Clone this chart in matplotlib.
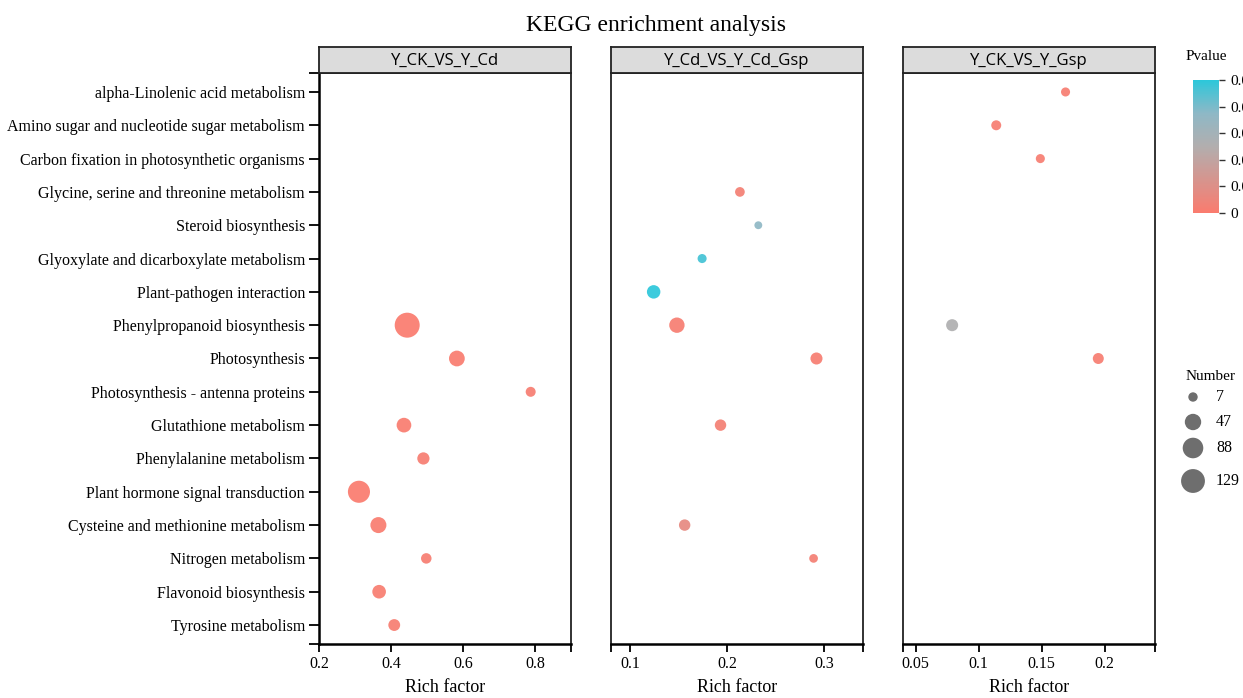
import numpy as np
import matplotlib
matplotlib.use("Agg")
import matplotlib.pyplot as plt
from matplotlib.colors import LinearSegmentedColormap, Normalize
from matplotlib.cm import ScalarMappable

# ---------------- data ----------------
pathways = [
    "alpha-Linolenic acid metabolism",
    "Amino sugar and nucleotide sugar metabolism",
    "Carbon fixation in photosynthetic organisms",
    "Glycine, serine and threonine metabolism",
    "Steroid biosynthesis",
    "Glyoxylate and dicarboxylate metabolism",
    "Plant-pathogen interaction",
    "Phenylpropanoid biosynthesis",
    "Photosynthesis",
    "Photosynthesis - antenna proteins",
    "Glutathione metabolism",
    "Phenylalanine metabolism",
    "Plant hormone signal transduction",
    "Cysteine and methionine metabolism",
    "Nitrogen metabolism",
    "Flavonoid biosynthesis",
    "Tyrosine metabolism",
]

groups = ["Y_CK_VS_Y_Cd", "Y_Cd_VS_Y_Cd_Gsp", "Y_CK_VS_Y_Gsp"]

# group 1
g1_path = ["Phenylpropanoid biosynthesis", "Photosynthesis", "Photosynthesis - antenna proteins",
           "Glutathione metabolism", "Phenylalanine metabolism", "Plant hormone signal transduction",
           "Cysteine and methionine metabolism", "Nitrogen metabolism", "Flavonoid biosynthesis",
           "Tyrosine metabolism"]
g1_rich = [0.445, 0.583, 0.788, 0.436, 0.490, 0.311, 0.365, 0.498, 0.367, 0.409]
g1_num = [145, 42, 9, 34, 19, 106, 44, 11, 27, 17]
g1_p = [0.0, 0.0005, 0.001, 0.0005, 0.001, 0.0, 0.0005, 0.001, 0.0008, 0.001]

# group 2
g2_path = ["Glycine, serine and threonine metabolism", "Steroid biosynthesis",
           "Glyoxylate and dicarboxylate metabolism", "Plant-pathogen interaction",
           "Phenylpropanoid biosynthesis", "Photosynthesis", "Glutathione metabolism",
           "Cysteine and methionine metabolism", "Nitrogen metabolism"]
g2_rich = [0.213, 0.232, 0.174, 0.124, 0.148, 0.292, 0.193, 0.156, 0.289]
g2_num = [8, 3, 6, 26, 39, 18, 15, 15, 5]
g2_p = [0.002, 0.037, 0.047, 0.050, 0.001, 0.001, 0.002, 0.007, 0.002]

# group 3
g3_path = ["alpha-Linolenic acid metabolism", "Amino sugar and nucleotide sugar metabolism",
           "Carbon fixation in photosynthetic organisms", "Phenylpropanoid biosynthesis",
           "Photosynthesis"]
g3_rich = [0.169, 0.114, 0.149, 0.079, 0.195]
g3_num = [6, 9, 6, 18, 13]
g3_p = [0.001, 0.001, 0.001, 0.026, 0.001]

xlims = [(0.2, 0.9), (0.08, 0.34), (0.04, 0.24)]
xticks = [[0.2, 0.4, 0.6, 0.8], [0.1, 0.2, 0.3], [0.05, 0.1, 0.15, 0.2]]
xticklabels = [["0.2", "0.4", "0.6", "0.8"], ["0.1", "0.2", "0.3"], ["0.05", "0.1", "0.15", "0.2"]]

p_ticks = [0, 0.01, 0.02, 0.03, 0.04, 0.05]
p_ticklabels = ["0", "0.01", "0.02", "0.03", "0.04", "0.05"]
legend_nums = [7, 47, 88, 129]

# ---------------- style ----------------
W, H = 1243, 698
DPI = 100
SERIF = ["Liberation Serif", "DejaVu Serif"]
SANS = ["Open Sans", "DejaVu Sans"]

cmap = LinearSegmentedColormap.from_list(
    "pv", [(0.0, "#FA7B6E"), (0.5, "#B2AEAE"), (0.75, "#8EB8C6"), (1.0, "#2CC7DA")])
norm = Normalize(0, 0.05)


def radius_px(n):
    return 2.5 + 0.83 * np.sqrt(np.asarray(n, dtype=float))


def size_pts(n):
    d = 2 * radius_px(n) * 72.0 / DPI
    return d ** 2


def fx(px):
    return px / W


def fy(py):
    return 1 - py / H


fig = plt.figure(figsize=(W / DPI, H / DPI), dpi=DPI)
fig.patch.set_facecolor("white")

fig.text(fx(656), fy(25), "KEGG enrichment analysis", ha="center", va="center",
         fontsize=17, family=SERIF)

panel_left = [319, 611, 903]
pw = 252
top, bottom = 73, 644
strip_top = 47

data = [(g1_path, g1_rich, g1_num, g1_p), (g2_path, g2_rich, g2_num, g2_p),
        (g3_path, g3_rich, g3_num, g3_p)]

n = len(pathways)
ypad = (92 - top) / ((626 - 92) / (n - 1))
TICKFS = 11.5

for i, (pl, (paths, rich, num, pv)) in enumerate(zip(panel_left, data)):
    ax = fig.add_axes([fx(pl), fy(bottom), pw / W, (bottom - top) / H])
    yidx = [pathways.index(p) for p in paths]
    ax.scatter(rich, yidx, s=size_pts(num), c=pv, cmap=cmap, norm=norm,
               alpha=0.92, edgecolors="none", zorder=3)
    ax.set_xlim(*xlims[i])
    ax.set_ylim(n - 1 + ypad, -ypad)
    ax.set_xticks(xticks[i])
    ax.set_xticklabels(xticklabels[i], family=SERIF, fontsize=TICKFS)
    ax.set_xticks(list(xlims[i]), minor=True)
    ax.tick_params(axis="x", which="both", direction="out", length=6, width=1.3,
                   color="black", pad=3)
    for s in ax.spines.values():
        s.set_linewidth(1.3)
        s.set_color("#222222")
    ax.spines["bottom"].set_color("black")
    ax.spines["bottom"].set_linewidth(1.8)
    if i == 0:
        ax.set_yticks(range(n))
        ax.set_yticklabels(pathways, family=SERIF, fontsize=TICKFS)
        ax.set_yticks(list(ax.get_ylim()), minor=True)
        ax.tick_params(axis="y", which="both", direction="out", length=7, width=1.3,
                       color="black", pad=3)
        ax.spines["left"].set_color("black")
        ax.spines["left"].set_linewidth(1.8)
    else:
        ax.set_yticks([])
    ax.set_xlabel("Rich factor", family=SERIF, fontsize=13, labelpad=5)

    # strip
    sax = fig.add_axes([fx(pl), fy(top), pw / W, (top - strip_top) / H])
    sax.set_facecolor("#DCDCDC")
    sax.set_xticks([])
    sax.set_yticks([])
    for s in sax.spines.values():
        s.set_linewidth(1.3)
        s.set_color("#222222")
    sax.text(0.5, 0.45, groups[i], ha="center", va="center", transform=sax.transAxes,
             fontsize=12, family=SANS)

# colorbar
fig.text(fx(1186), fy(56), "Pvalue", family=SERIF, fontsize=11, ha="left", va="center")
cax = fig.add_axes([fx(1193), fy(213), 26 / W, (213 - 80) / H])
cb = fig.colorbar(ScalarMappable(norm=norm, cmap=cmap), cax=cax)
cb.outline.set_visible(False)
cb.set_ticks(p_ticks)
cb.set_ticklabels(p_ticklabels)
cax.tick_params(length=4, width=1, color="#333333", pad=4)
for t in cax.get_yticklabels():
    t.set_family(SERIF)
    t.set_fontsize(11)

# size legend
fig.text(fx(1186), fy(376), "Number", family=SERIF, fontsize=11, ha="left", va="center")
lax = fig.add_axes([fx(1175), fy(500), 68 / W, (500 - 385) / H])
lax.set_xlim(1175, 1243)
lax.set_ylim(500, 385)
lax.axis("off")
ly = [397, 422, 448, 481]
lax.scatter([1193] * len(legend_nums), ly, s=size_pts(legend_nums), color="#555555",
            alpha=0.85, edgecolors="none")
for yy, nn in zip(ly, legend_nums):
    lax.text(1216, yy, str(nn), family=SERIF, fontsize=11.5, ha="left", va="center")

fig.savefig("out.png", dpi=DPI)
